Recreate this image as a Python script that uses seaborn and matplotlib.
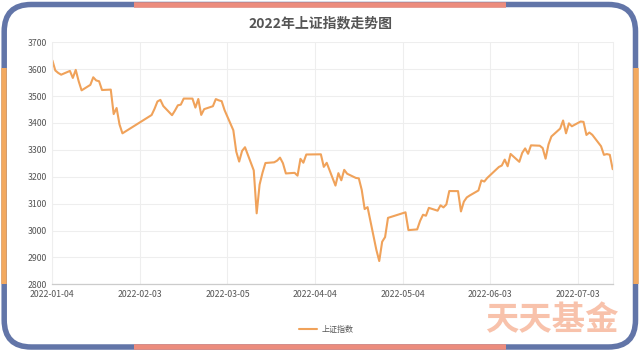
import matplotlib
matplotlib.use("Agg")
import matplotlib.pyplot as plt
import matplotlib.dates as mdates
from matplotlib.patches import FancyBboxPatch
import seaborn as sns
import pandas as pd
import numpy as np

# ---- data ----
dates = [
    "2022-01-04", "2022-01-05", "2022-01-06", "2022-01-07", "2022-01-10", "2022-01-11", "2022-01-12",
    "2022-01-13", "2022-01-14", "2022-01-17", "2022-01-18", "2022-01-19", "2022-01-20", "2022-01-21",
    "2022-01-24", "2022-01-25", "2022-01-26", "2022-01-27", "2022-01-28",
    "2022-02-07", "2022-02-08", "2022-02-09", "2022-02-10", "2022-02-11", "2022-02-14", "2022-02-15",
    "2022-02-16", "2022-02-17", "2022-02-18", "2022-02-21", "2022-02-22", "2022-02-23", "2022-02-24",
    "2022-02-25", "2022-02-28",
    "2022-03-01", "2022-03-02", "2022-03-03", "2022-03-04", "2022-03-07", "2022-03-08", "2022-03-09",
    "2022-03-10", "2022-03-11", "2022-03-14", "2022-03-15", "2022-03-16", "2022-03-17", "2022-03-18",
    "2022-03-21", "2022-03-22", "2022-03-23", "2022-03-24", "2022-03-25", "2022-03-28", "2022-03-29",
    "2022-03-30", "2022-03-31",
    "2022-04-01", "2022-04-06", "2022-04-07", "2022-04-08", "2022-04-11", "2022-04-12", "2022-04-13",
    "2022-04-14", "2022-04-15", "2022-04-18", "2022-04-19", "2022-04-20", "2022-04-21", "2022-04-22",
    "2022-04-25", "2022-04-26", "2022-04-27", "2022-04-28", "2022-04-29",
    "2022-05-05", "2022-05-06", "2022-05-09", "2022-05-10", "2022-05-11", "2022-05-12", "2022-05-13",
    "2022-05-16", "2022-05-17", "2022-05-18", "2022-05-19", "2022-05-20", "2022-05-23", "2022-05-24",
    "2022-05-25", "2022-05-26", "2022-05-27", "2022-05-30", "2022-05-31",
    "2022-06-01", "2022-06-02", "2022-06-06", "2022-06-07", "2022-06-08", "2022-06-09", "2022-06-10",
    "2022-06-13", "2022-06-14", "2022-06-15", "2022-06-16", "2022-06-17", "2022-06-20", "2022-06-21",
    "2022-06-22", "2022-06-23", "2022-06-24", "2022-06-27", "2022-06-28", "2022-06-29", "2022-06-30",
    "2022-07-01", "2022-07-04", "2022-07-05", "2022-07-06", "2022-07-07", "2022-07-08", "2022-07-11",
    "2022-07-12", "2022-07-13", "2022-07-14", "2022-07-15",
]
values = [
    3632.33, 3595.18, 3586.08, 3579.54, 3593.52, 3567.44, 3597.43,
    3555.26, 3521.26, 3541.67, 3569.91, 3558.18, 3555.06, 3522.57,
    3524.11, 3433.06, 3455.67, 3394.25, 3361.44,
    3429.58, 3452.63, 3479.95, 3485.91, 3462.95, 3428.88, 3446.09,
    3465.83, 3468.04, 3490.76, 3490.61, 3457.15, 3489.15, 3429.96,
    3451.41, 3462.31,
    3488.83, 3484.19, 3481.11, 3447.65, 3372.86, 3293.53, 3256.39,
    3296.09, 3309.75, 3223.54, 3063.97, 3170.71, 3215.04, 3251.07,
    3253.69, 3259.86, 3271.03, 3250.26, 3212.24, 3214.50, 3203.94,
    3266.60, 3252.20,
    3282.72, 3283.43, 3236.70, 3251.85, 3167.13, 3213.33, 3186.82,
    3225.64, 3211.24, 3195.52, 3194.03, 3151.05, 3079.81, 3086.92,
    2928.51, 2886.43, 2958.28, 2975.48, 3047.06,
    3067.76, 3001.56, 3004.14, 3035.84, 3058.70, 3054.99, 3084.28,
    3073.75, 3093.70, 3085.98, 3096.96, 3146.86, 3146.57, 3070.93,
    3107.46, 3123.11, 3130.24, 3149.06, 3186.43,
    3182.16, 3195.46, 3236.37, 3241.76, 3263.79, 3238.95, 3284.83,
    3255.55, 3288.91, 3305.41, 3285.38, 3316.79, 3315.43, 3306.72,
    3267.20, 3320.15, 3349.75, 3379.19, 3409.21, 3361.52, 3398.62,
    3387.64, 3405.43, 3404.03, 3355.35, 3364.40, 3356.08, 3313.58,
    3281.47, 3284.29, 3281.74, 3228.06,
]
x_tick_labels = ["2022-01-04", "2022-02-03", "2022-03-05", "2022-04-04",
                 "2022-05-04", "2022-06-03", "2022-07-03"]
y_ticks = [2800, 2900, 3000, 3100, 3200, 3300, 3400, 3500, 3600, 3700]
title = "2022年上证指数走势图"
series_name = "上证指数"
watermark = "天天基金"

# ---- style ----
sns.set_style("white")
plt.rcParams['font.family'] = ['Noto Sans CJK SC', 'DejaVu Sans']

LINE_C = "#f0a25a"
BLUE = "#6275a8"
SALMON = "#ec8c7d"
ORANGE = "#f3a95f"
TXT = "#555555"

df = pd.DataFrame({"date": pd.to_datetime(dates), "value": values})

fig = plt.figure(figsize=(6.4, 3.53), dpi=100)
W, H = 640, 353
ax = fig.add_axes([52.4 / W, 1 - 284.3 / H, (612.7 - 52.4) / W, (284.3 - 42.3) / H])
ax.set_zorder(2)

sns.lineplot(data=df, x="date", y="value", ax=ax, color=LINE_C, linewidth=1.5,
             label=series_name, legend=False)

ax.set_xlim(df["date"].min(), df["date"].max())
ax.set_ylim(2800, 3700)
ax.set_yticks(y_ticks)
ax.set_yticklabels([str(v) for v in y_ticks])
ax.set_xticks(pd.to_datetime(x_tick_labels))
ax.set_xticklabels(x_tick_labels)
ax.set_xlabel("")
ax.set_ylabel("")

ax.grid(True, color="#eeeeee", linewidth=0.8)
ax.set_axisbelow(True)
for s in ["left", "right", "top"]:
    ax.spines[s].set_color("#eeeeee")
    ax.spines[s].set_linewidth(0.8)
ax.spines["top"].set_visible(False)
ax.spines["bottom"].set_color("#cccccc")
ax.spines["bottom"].set_linewidth(0.9)
ax.tick_params(axis="both", length=0, labelsize=6.3, colors=TXT)
ax.tick_params(axis="y", pad=3.8)
ax.tick_params(axis="x", pad=4.0)

# title
fig.text(0.5, 1 - 23 / H, title, ha="center", va="center", fontsize=10,
         fontweight="bold", color=TXT)

# legend
handles, labels = ax.get_legend_handles_labels()
from matplotlib.lines import Line2D
h = [Line2D([0], [0], color=LINE_C, linewidth=1.5)]
fig.legend(h, [series_name], loc="center", bbox_to_anchor=(326 / W, 1 - 329.5 / H),
           frameon=False, fontsize=5.8, handlelength=2.3, handletextpad=0.5,
           borderpad=0, labelcolor=TXT)

# decorative frame
ov = fig.add_axes([0, 0, 1, 1])
ov.set_zorder(0)
ov.set_xlim(0, W)
ov.set_ylim(H, 0)
ov.set_axis_off()
lw = 5.5 * 72 / 100
x0, y0, x1, y1 = 4.2, 4.5, 635.5, 347.0
box = FancyBboxPatch((x0, y0), x1 - x0, y1 - y0,
                     boxstyle="round,pad=0,rounding_size=27",
                     fill=False, edgecolor=BLUE, linewidth=lw)
ov.add_patch(box)
ov.plot([134, 506], [y0, y0], color=SALMON, linewidth=lw, solid_capstyle="butt")
ov.plot([134, 506], [y1, y1], color=SALMON, linewidth=lw, solid_capstyle="butt")
ov.plot([x0, x0], [68, 284], color=ORANGE, linewidth=lw, solid_capstyle="butt")
ov.plot([x1, x1], [68, 284], color=ORANGE, linewidth=lw, solid_capstyle="butt")

# watermark
fig.text(552 / W, 1 - 321 / H, watermark, ha="center", va="center",
         fontsize=24, fontweight="bold", color="#f8c2ab", zorder=5)

fig.savefig("out.png", dpi=100)
